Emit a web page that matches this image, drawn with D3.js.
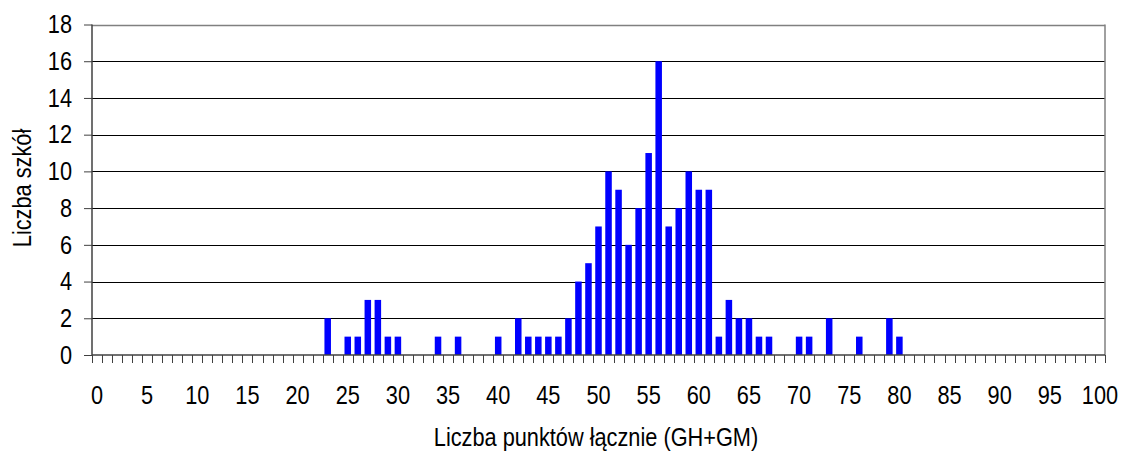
<!DOCTYPE html>
<html><head><meta charset="utf-8">
<script src="https://cdn.jsdelivr.net/npm/d3@7"></script>
<style>
html,body{margin:0;padding:0;background:#fff;}
text{font-family:"Liberation Sans",Arial,sans-serif;fill:#000;}
</style></head>
<body>
<svg id="chart" width="1121" height="454"></svg>
<script>
const points = [23,25,26,27,28,29,30,34,36,40,42,43,44,45,46,47,48,49,50,51,52,53,54,55,56,57,58,59,60,61,62,63,64,65,66,67,70,71,73,76,79,80];
const schools = [2,1,1,3,3,1,1,1,1,1,2,1,1,1,1,2,4,5,7,10,9,6,8,11,16,7,8,10,9,9,1,3,2,2,1,1,1,1,2,1,2,1];
const categories = d3.range(0,101);
const xTickLabels = d3.range(0,101,5);
const yTicks = [0,2,4,6,8,10,12,14,16,18];
const xTitle = "Liczba punktów łącznie (GH+GM)";
const yTitle = "Liczba szkół";

const svg = d3.select("#chart");
const L = 92, R = 1105, T = 24.5, B = 355;
const FS = 25, SX = 0.87;
const x = d3.scaleBand().domain(categories).range([L, R]).paddingInner(0.35).paddingOuter(0.175);
const xb = d3.scaleLinear().domain([0, 101]).range([L, R]);
const y = d3.scaleLinear().domain([0, 18]).range([B, T]);

function label(g, tx, ty, anchor, txt, rot) {
  return g.append("text")
    .attr("transform", `translate(${tx},${ty})${rot ? " rotate(" + rot + ")" : ""} scale(${SX},1)`)
    .attr("dy", "0.35em").attr("text-anchor", anchor).attr("font-size", FS).text(txt);
}

// gridlines
svg.append("g").selectAll("line").data(yTicks.filter(d => d > 0 && d < 18)).join("line")
  .attr("x1", L).attr("x2", R).attr("y1", d => Math.round(y(d)) + 0.5).attr("y2", d => Math.round(y(d)) + 0.5)
  .attr("stroke", "#000").attr("stroke-width", 1);
// top & right border
svg.append("line").attr("x1", L).attr("x2", R).attr("y1", Math.round(T)+0.5).attr("y2", Math.round(T)+0.5).attr("stroke", "#808080").attr("stroke-width", 1.5);
svg.append("line").attr("x1", R).attr("x2", R).attr("y1", T).attr("y2", B).attr("stroke", "#808080").attr("stroke-width", 1.5);

// bars
svg.append("g").selectAll("rect").data(points.map((p, i) => ({p, v: schools[i]}))).join("rect")
  .attr("x", d => x(d.p)).attr("width", x.bandwidth())
  .attr("y", d => y(d.v)).attr("height", d => y(0) - y(d.v))
  .attr("fill", "#0000ff");

// y axis
const yAxis = d3.axisLeft(y).tickValues(yTicks).tickSize(8).tickFormat("");
const gy = svg.append("g").attr("transform", `translate(${L},0)`).call(yAxis);
gy.select(".domain").attr("stroke", "#404040").attr("stroke-width", 1.5).attr("d", `M0,${T}V${B}`);
gy.selectAll(".tick line").attr("stroke", "#404040");
const gyl = svg.append("g");
yTicks.forEach(d => label(gyl, 72, y(d), "end", d3.format("d")(d)));

// x axis: ticks at category boundaries
const gx = svg.append("g");
gx.selectAll("line").data(d3.range(0, 102)).join("line")
  .attr("x1", d => Math.round(xb(d)) + 0.5).attr("x2", d => Math.round(xb(d)) + 0.5)
  .attr("y1", B).attr("y2", B + 8).attr("stroke", "#404040").attr("stroke-width", 1);
gx.append("line").attr("x1", L).attr("x2", R).attr("y1", B).attr("y2", B).attr("stroke", "#404040").attr("stroke-width", 1.5);
xTickLabels.forEach(d => label(gx, x(d) + x.bandwidth() / 2, 395, "middle", d));

// titles
label(svg, 596, 437, "middle", xTitle);
label(svg, 22, 188, "middle", yTitle, -90);
</script>
</body></html>
